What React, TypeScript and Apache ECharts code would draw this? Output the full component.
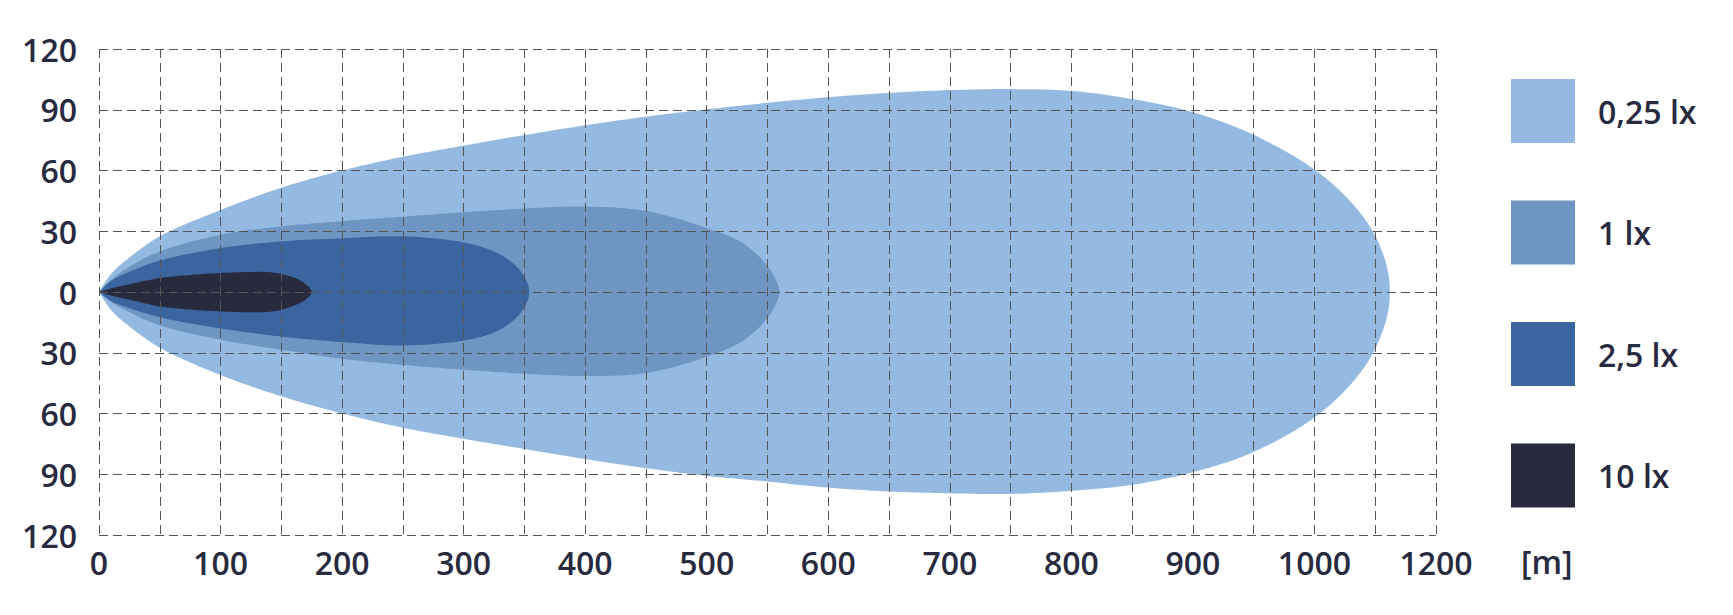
import React, { useEffect, useRef } from "react";
import * as echarts from "echarts";

// Tick labels
const xTickLabels = ["0", "100", "200", "300", "400", "500", "600", "700", "800", "900", "1000", "1200"];
const yTickLabels = ["120", "90", "60", "30", "0", "30", "60", "90", "120"]; // bottom to top

// Legend / series names
const seriesNames = ["0,25 lx", "1 lx", "2,5 lx", "10 lx"];
const seriesColors = ["#94bae2", "#6f95c3", "#3b659e", "#282a3e"];

// 0,25 lx isolux contour (distance in m, half-width upper/lower)
const lx025X = [0, 10, 25, 50, 100, 150, 200, 250, 300, 350, 400, 450, 500, 550, 600, 650, 700, 750, 800, 850, 900, 950, 1000, 1030, 1047, 1055, 1060, 1062];
const lx025Upper = [0, 9, 17, 27.5, 40.5, 51.5, 60, 66.8, 72.3, 77.5, 82.3, 86.6, 90.2, 93.4, 96.2, 98.3, 99.7, 100.2, 99.3, 95.3, 88.8, 77.6, 60.5, 44.5, 31, 21, 11.5, 0];
const lx025Lower = [0, -9, -17, -27.5, -41, -51.5, -60, -67, -72.5, -77.5, -82.5, -87, -90.8, -93.6, -96.6, -98.5, -99.4, -99.7, -98.2, -95.2, -89, -79, -62, -45.5, -31.5, -21, -11.5, 0];

// 1 lx
const lx1X = [0, 10, 25, 50, 100, 150, 200, 250, 300, 350, 400, 450, 500, 530, 548, 556, 560];
const lx1Upper = [0, 6, 12.5, 20, 28.3, 32.4, 35, 37.2, 39.4, 41.2, 42.2, 40, 31.6, 24, 14.3, 7, 0];
const lx1Lower = [0, -5, -10, -16.5, -23.6, -28.5, -33, -36, -38.4, -40.4, -41.5, -40, -32, -24, -14.3, -7, 0];

// 2,5 lx
const lx25X = [0, 10, 25, 50, 100, 150, 200, 250, 300, 325, 340, 350, 354];
const lx25Upper = [0, 5.5, 10, 15.5, 21.7, 25, 26.5, 27.5, 24.5, 20, 14.5, 7.5, 0];
const lx25Lower = [0, -4.5, -8, -12.5, -18, -22, -24.7, -26.4, -24, -20, -14.5, -7.5, 0];

// 10 lx
const lx10X = [0, 10, 25, 50, 75, 100, 125, 140, 150, 160, 168, 175];
const lx10Upper = [0, 1.8, 3.8, 6.9, 8.4, 9.4, 9.9, 9.8, 8.9, 7.2, 4.8, 0];
const lx10Lower = [0, -1.8, -3.8, -7.1, -8.7, -9.6, -10, -9.8, -8.8, -6.8, -4.6, 0];

const FONT = "'Open Sans', 'Noto Sans', sans-serif";
const TEXT_COLOR = "#282a40";

function contour(xs: number[], upper: number[], lower: number[]): number[][] {
  const pts: number[][] = xs.map((x, i) => [x, upper[i]]);
  for (let i = xs.length - 2; i >= 0; i--) pts.push([xs[i], lower[i]]);
  return pts;
}

// centripetal Catmull-Rom through pixel points (open chain)
function smoothChain(p: number[][], steps = 10): number[][] {
  const n = p.length;
  const out: number[][] = [];
  const get = (i: number) => {
    if (i < 0) return [2 * p[0][0] - p[1][0], 2 * p[0][1] - p[1][1]];
    if (i >= n) return [2 * p[n - 1][0] - p[n - 2][0], 2 * p[n - 1][1] - p[n - 2][1]];
    return p[i];
  };
  const td = (a: number[], b: number[]) => Math.max(Math.pow(Math.hypot(b[0] - a[0], b[1] - a[1]), 0.5), 1e-4);
  const lerp = (a: number[], b: number[], ta: number, tb: number, t: number) => {
    const w = (t - ta) / (tb - ta);
    return [a[0] + (b[0] - a[0]) * w, a[1] + (b[1] - a[1]) * w];
  };
  for (let i = 0; i < n - 1; i++) {
    const p0 = get(i - 1), p1 = get(i), p2 = get(i + 1), p3 = get(i + 2);
    const t0 = 0;
    const t1 = t0 + td(p0, p1);
    const t2 = t1 + td(p1, p2);
    const t3 = t2 + td(p2, p3);
    for (let k = 0; k < steps; k++) {
      const t = t1 + ((t2 - t1) * k) / steps;
      const a1 = lerp(p0, p1, t0, t1, t);
      const a2 = lerp(p1, p2, t1, t2, t);
      const a3 = lerp(p2, p3, t2, t3, t);
      const b1 = lerp(a1, a2, t0, t2, t);
      const b2 = lerp(a2, a3, t1, t3, t);
      out.push(lerp(b1, b2, t1, t2, t));
    }
  }
  out.push(p[n - 1]);
  return out;
}

const shapes = [
  contour(lx025X, lx025Upper, lx025Lower),
  contour(lx1X, lx1Upper, lx1Lower),
  contour(lx25X, lx25Upper, lx25Lower),
  contour(lx10X, lx10Upper, lx10Lower),
];

export default function App() {
  const ref = useRef<HTMLDivElement>(null);
  useEffect(() => {
    if (!ref.current) return;
    const chart = echarts.init(ref.current, null, { renderer: "svg" });
    const gridLine = {
      show: true,
      lineStyle: { color: "#555", width: 1, type: [9, 5] as any },
    };
    const series = shapes.map((pts, si) => ({
      type: "custom",
      name: seriesNames[si],
      coordinateSystem: "cartesian2d",
      silent: true,
      z: 2 + si,
      itemStyle: { color: seriesColors[si] },
      encode: { x: 0, y: 1 },
      data: pts,
      renderItem: (params: any, api: any) => {
        if (params.dataIndex !== 0) return null;
        const pix = pts.map((p) => api.coord(p));
        const points = smoothChain(pix, 12);
        return {
          type: "polygon",
          shape: { points },
          style: { fill: seriesColors[si] },
        };
      },
    }));
    chart.setOption({
      animation: false,
      backgroundColor: "#ffffff",
      grid: { left: 99, right: 297, top: 49, bottom: 80, containLabel: false },
      xAxis: {
        type: "value",
        min: 0,
        max: 1100,
        interval: 50,
        z: 10,
        axisLine: { show: false },
        axisTick: { show: false },
        splitLine: gridLine,
        axisLabel: {
          margin: 11,
          fontFamily: FONT,
          fontSize: 32,
          fontWeight: 600,
          color: TEXT_COLOR,
          formatter: (v: number) => (v % 100 === 0 ? xTickLabels[v / 100] : ""),
        },
      },
      yAxis: {
        type: "value",
        min: -120,
        max: 120,
        interval: 30,
        z: 10,
        axisLine: { show: false },
        axisTick: { show: false },
        splitLine: gridLine,
        axisLabel: {
          margin: 22,
          fontFamily: FONT,
          fontSize: 32,
          fontWeight: 600,
          color: TEXT_COLOR,
          formatter: (v: number) => yTickLabels[Math.round((v + 120) / 30)],
        },
      },
      legend: {
        orient: "vertical",
        left: 1511,
        top: 79,
        padding: 0,
        itemWidth: 64,
        itemHeight: 64,
        itemGap: 57.5,
        icon: "rect",
        data: seriesNames,
        selectedMode: false,
        textStyle: {
          fontFamily: FONT,
          fontSize: 32,
          fontWeight: 600,
          color: TEXT_COLOR,
          padding: [6, 0, 0, 18],
        },
      },
      graphic: [
        {
          type: "text",
          left: 1521,
          top: 545,
          style: {
            text: "[m]",
            fontFamily: FONT,
            fontSize: 32,
            fontWeight: 600,
            fill: TEXT_COLOR,
          },
        },
      ],
      series,
    });
    return () => chart.dispose();
  }, []);
  return (
    <div
      ref={ref}
      style={{ position: "fixed", left: 0, top: 0, width: 1733, height: 615, background: "#fff" }}
    />
  );
}
